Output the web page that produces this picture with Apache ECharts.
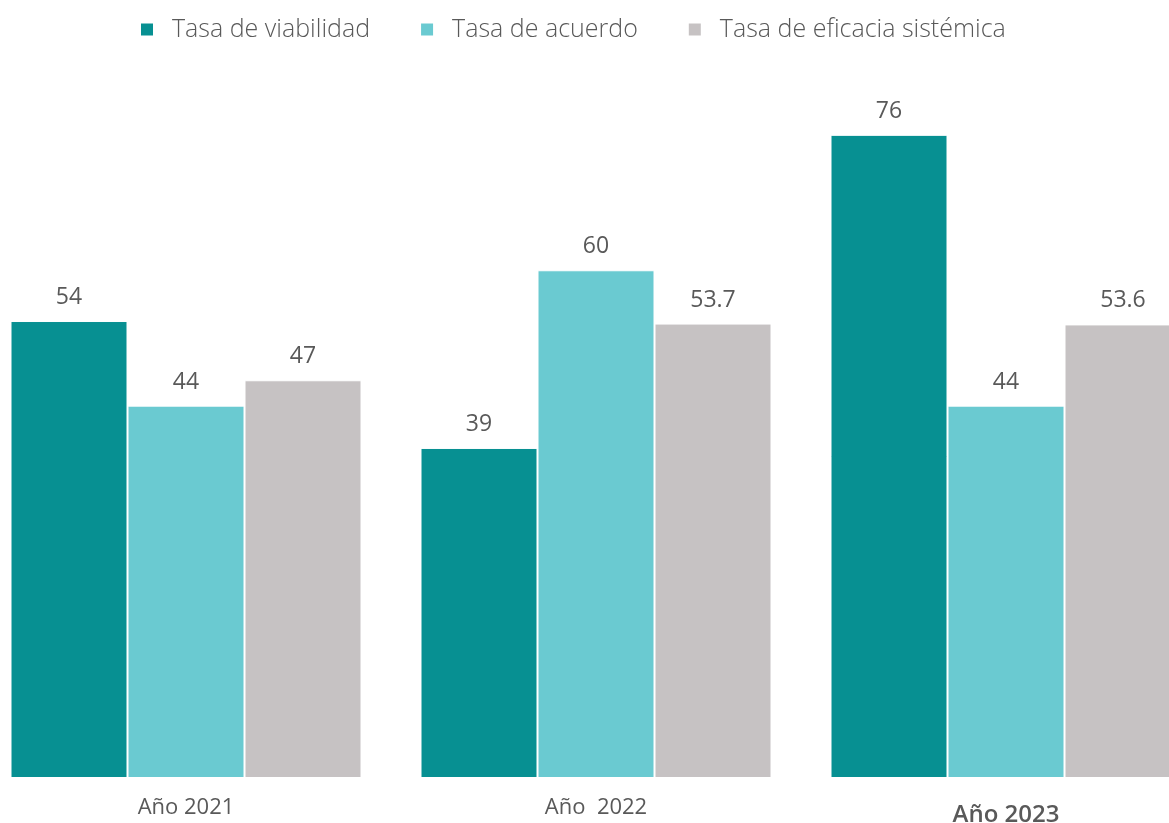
<!DOCTYPE html>
<html>
<head>
<meta charset="utf-8">
<script src="https://cdn.jsdelivr.net/npm/echarts@6/dist/echarts.min.js"></script>
<style>
  html, body { margin: 0; padding: 0; background: #ffffff; }
  #chart { width: 1169px; height: 823px; }
</style>
</head>
<body>
<div id="chart"></div>
<script>
// Categories (years) and the three rates per year
const categories = ['Año 2021', 'Año  2022', 'Año 2023'];
const seriesNames = ['Tasa de viabilidad', 'Tasa de acuerdo', 'Tasa de eficacia sistémica'];
const viabilidad = [54, 39, 76];
const acuerdo = [44, 60, 44];
const eficacia = [47, 53.7, 53.6];

const colors = ['#079092', '#6ACAD1', '#C6C2C3'];
const textColor = '#595959';
const font = '"Open Sans", Lato, sans-serif';

const chart = echarts.init(document.getElementById('chart'));

function barSeries(name, data, color) {
  return {
    name: name,
    type: 'bar',
    data: data,
    barWidth: 117,
    barGap: '0%',
    itemStyle: { color: color, borderColor: '#ffffff', borderWidth: 1 },
    label: {
      show: true,
      position: 'top',
      distance: 12,
      color: textColor,
      fontFamily: font,
      fontSize: 23,
      formatter: p => String(p.value)
    }
  };
}

chart.setOption({
  animation: false,
  color: colors,
  legend: {
    top: 12,
    left: 134,
    icon: 'rect',
    itemWidth: 14,
    itemHeight: 14,
    itemGap: 49,
    textStyle: {
      color: textColor,
      fontFamily: font,
      fontWeight: 300,
      fontSize: 25,
      padding: [0, 0, 0, 13]
    },
    data: seriesNames
  },
  grid: {
    left: -19, width: 1230, top: 101, bottom: 45,
    containLabel: false,
    outerBoundsMode: 'none'
  },
  xAxis: {
    type: 'category',
    data: categories,
    axisLine: { show: false },
    axisTick: { show: false },
    axisLabel: {
      margin: 19,
      color: textColor,
      fontFamily: font,
      fontSize: 22,
      formatter: (v, i) => i === 2 ? '{b|' + v + '}' : v,
      rich: {
        b: { fontFamily: font, fontSize: 24, fontWeight: 600, color: textColor, padding: [6, 0, 0, 0] }
      }
    }
  },
  yAxis: {
    type: 'value',
    min: 0,
    max: 80,
    show: false,
    splitLine: { show: false }
  },
  series: [
    barSeries(seriesNames[0], viabilidad, colors[0]),
    barSeries(seriesNames[1], acuerdo, colors[1]),
    barSeries(seriesNames[2], eficacia, colors[2])
  ]
});
</script>
</body>
</html>
